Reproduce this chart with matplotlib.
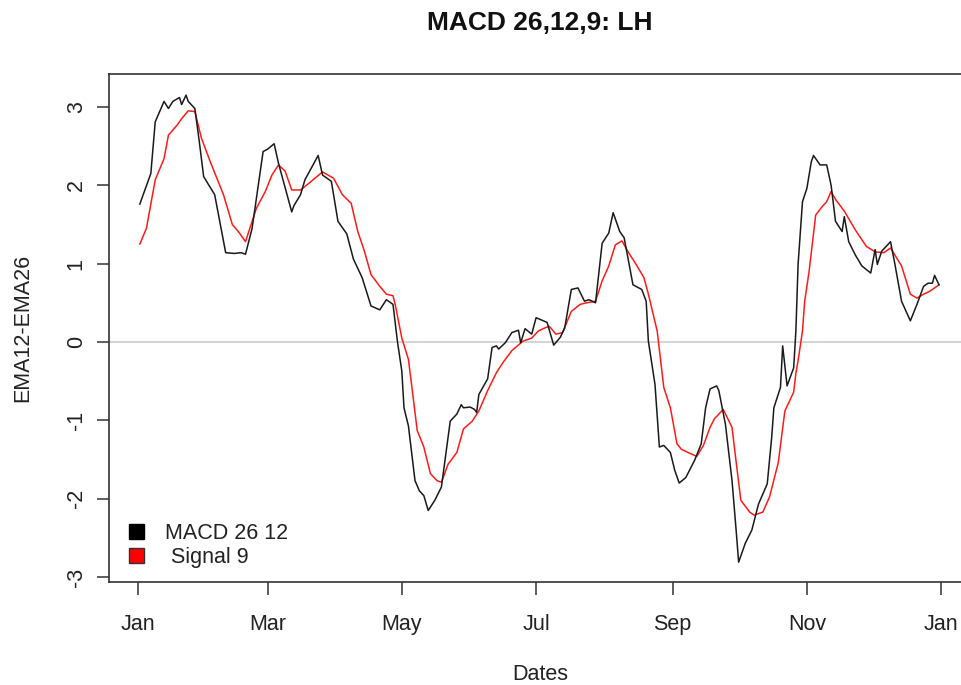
import numpy as np
import matplotlib
matplotlib.use("Agg")
import matplotlib.pyplot as plt
import matplotlib.dates as mdates
from matplotlib.patches import Patch

plt.rcParams['font.family'] = ['Liberation Sans', 'DejaVu Sans']

start = np.datetime64('2019-01-01')

# MACD (EMA12 - EMA26): day offsets from Jan 1 and values
macd_days = [1, 6, 8, 12, 14, 16, 19, 20, 22, 23, 26, 28, 30, 35, 40, 44, 47, 49, 52,
             57, 59, 62, 64, 70, 71, 74, 76, 82, 84, 88, 91, 95, 98, 102, 106, 110,
             113, 116, 118, 120, 121, 123, 126, 128, 130, 132, 135, 138, 142, 145,
             147, 148, 151, 153, 154, 155, 159, 161, 163, 164, 167, 170, 173, 174,
             176, 179, 181, 186, 189, 192, 194, 197, 200, 203, 205, 208, 211, 214,
             216, 219, 221, 225, 229, 231, 232, 235, 237, 239, 242, 244, 246, 249,
             253, 256, 258, 260, 263, 264, 267, 270, 272, 273, 276, 279, 282, 286,
             288, 289, 292, 293, 295, 298, 299, 300, 302, 304, 306, 307, 310, 313,
             315, 317, 320, 321, 323, 326, 329, 333, 335, 336, 338, 342, 344, 347,
             351, 354, 357, 359, 361, 362, 364]
macd_vals = [1.76, 2.15, 2.81, 3.07, 2.98, 3.07, 3.12, 3.03, 3.15, 3.07, 2.98, 2.56, 2.11,
             1.88, 1.14, 1.13, 1.14, 1.12, 1.45, 2.43, 2.46, 2.53, 2.28, 1.66, 1.74, 1.88,
             2.07, 2.38, 2.13, 2.05, 1.54, 1.38, 1.06, 0.82, 0.46, 0.41, 0.54, 0.48, 0.01,
             -0.37, -0.84, -1.07, -1.77, -1.90, -1.96, -2.15, -2.02, -1.85, -1.01, -0.92,
             -0.80, -0.84, -0.83, -0.86, -0.90, -0.67, -0.47, -0.07, -0.05, -0.09, -0.01,
             0.12, 0.15, -0.01, 0.17, 0.10, 0.31, 0.25, -0.04, 0.06, 0.18, 0.67, 0.69,
             0.52, 0.54, 0.50, 1.26, 1.39, 1.65, 1.41, 1.33, 0.73, 0.67, 0.52, 0.01,
             -0.54, -1.34, -1.32, -1.41, -1.64, -1.80, -1.73, -1.51, -1.30, -0.84, -0.60,
             -0.56, -0.62, -1.05, -1.77, -2.45, -2.81, -2.57, -2.40, -2.07, -1.81, -1.22,
             -0.84, -0.58, -0.05, -0.56, -0.33, 0.14, 0.99, 1.79, 1.96, 2.30, 2.38, 2.26,
             2.26, 2.00, 1.54, 1.41, 1.60, 1.28, 1.11, 0.97, 0.88, 1.18, 0.99, 1.16, 1.28,
             0.99, 0.52, 0.27, 0.48, 0.71, 0.75, 0.75, 0.85, 0.73]

# Signal line (9-period EMA of MACD)
signal_days = [1, 4, 8, 12, 14, 18, 20, 23, 26, 29, 33, 39, 43, 46, 49, 54, 58, 61, 64,
               67, 70, 74, 78, 84, 89, 93, 97, 100, 103, 106, 110, 113, 116, 117, 120,
               123, 125, 127, 130, 133, 136, 138, 141, 145, 148, 152, 155, 159, 163,
               166, 170, 175, 179, 182, 185, 187, 190, 193, 197, 201, 204, 208, 211,
               214, 217, 220, 223, 226, 230, 232, 236, 239, 242, 245, 247, 250, 254,
               257, 260, 262, 266, 270, 272, 274, 278, 280, 284, 287, 291, 294, 298,
               299, 300, 302, 303, 305, 308, 311, 313, 315, 317, 321, 326, 331, 335,
               339, 342, 347, 351, 354, 357, 360, 364]
signal_vals = [1.25, 1.45, 2.07, 2.34, 2.64, 2.77, 2.85, 2.95, 2.94, 2.60, 2.30, 1.88,
               1.50, 1.40, 1.28, 1.71, 1.92, 2.13, 2.26, 2.18, 1.94, 1.94, 2.03, 2.17,
               2.09, 1.88, 1.77, 1.41, 1.16, 0.86, 0.71, 0.61, 0.59, 0.48, 0.05, -0.22,
               -0.67, -1.13, -1.34, -1.68, -1.77, -1.79, -1.56, -1.41, -1.11, -1.01,
               -0.88, -0.62, -0.39, -0.26, -0.11, 0.01, 0.05, 0.14, 0.18, 0.20, 0.10,
               0.12, 0.39, 0.48, 0.50, 0.52, 0.78, 0.97, 1.24, 1.29, 1.14, 1.01, 0.82,
               0.61, 0.14, -0.58, -0.84, -1.30, -1.37, -1.41, -1.46, -1.32, -1.09, -0.98,
               -0.86, -1.09, -1.56, -2.02, -2.17, -2.21, -2.17, -1.98, -1.54, -0.88,
               -0.64, -0.40, -0.24, 0.14, 0.52, 0.90, 1.62, 1.73, 1.79, 1.92, 1.82, 1.67,
               1.43, 1.22, 1.15, 1.14, 1.20, 0.97, 0.61, 0.56, 0.61, 0.65, 0.73]

title = "MACD 26,12,9: LH"
y_ticks = [-3, -2, -1, 0, 1, 2, 3]
month_ticks = ['2019-01-01', '2019-03-01', '2019-05-01', '2019-07-01',
               '2019-09-01', '2019-11-01', '2020-01-01']

macd_dates = (start + np.array(macd_days, dtype='timedelta64[D]')).astype('datetime64[D]').astype(object)
signal_dates = (start + np.array(signal_days, dtype='timedelta64[D]')).astype('datetime64[D]').astype(object)

W, H = 962, 685
fig = plt.figure(figsize=(W / 100, H / 100), dpi=100)
left, right, top, bottom = 109, 972, 74, 582
ax = fig.add_axes([left / W, 1 - bottom / H, (right - left) / W, (bottom - top) / H])

ink = '#222222'
ax.axhline(0, color='#d4d4d4', lw=1.4, zorder=1)
ax.plot(macd_dates, macd_vals, color='#1a1a1a', lw=1.1, zorder=3)
ax.plot(signal_dates, signal_vals, color='#ff1a1a', lw=1.1, zorder=2)

x0 = start - np.timedelta64(13, 'D')
x1 = start + np.timedelta64(379, 'D')
ax.set_xlim(x0.astype(object), x1.astype(object))
ax.set_ylim(-3.063, 3.42)

ax.set_xticks([np.datetime64(d).astype(object) for d in month_ticks])
ax.xaxis.set_major_formatter(mdates.DateFormatter('%b'))
ax.set_yticks(y_ticks)
ax.set_yticklabels([str(v) for v in y_ticks], rotation=90, va='center')

for s in ax.spines.values():
    s.set_color('#333333')
    s.set_linewidth(1.2)
ax.tick_params(axis='both', direction='out', length=9, width=1.1, color='#333333',
               labelsize=15.5, labelcolor=ink)
ax.tick_params(axis='x', pad=14)
ax.tick_params(axis='y', pad=7)

ax.set_xlabel('Dates', fontsize=15.5, color=ink, va='center')
ax.xaxis.set_label_coords(0.5 + (540 - (left + right) / 2) / (right - left),
                          -(675 - bottom) / (bottom - top))
ax.set_ylabel('EMA12-EMA26', fontsize=15.5, color=ink, va='center')
ax.yaxis.set_label_coords(-(left - 23) / (right - left), 0.5)
fig.text(540 / W, 1 - 23 / H, title, fontsize=19, fontweight='bold',
         color='#111111', ha='center', va='center')

handles = [Patch(facecolor='black', edgecolor='black', label='MACD 26 12'),
           Patch(facecolor='#ff0000', edgecolor='#333333', label=' Signal 9')]
ax.legend(handles=handles, loc='lower left', bbox_to_anchor=(0.023, 0.028),
          frameon=False, fontsize=15.5, handlelength=0.72, handleheight=0.72,
          handletextpad=0.95, labelspacing=0.12, borderaxespad=0, borderpad=0,
          labelcolor=ink)

fig.savefig('out.png', dpi=100)
